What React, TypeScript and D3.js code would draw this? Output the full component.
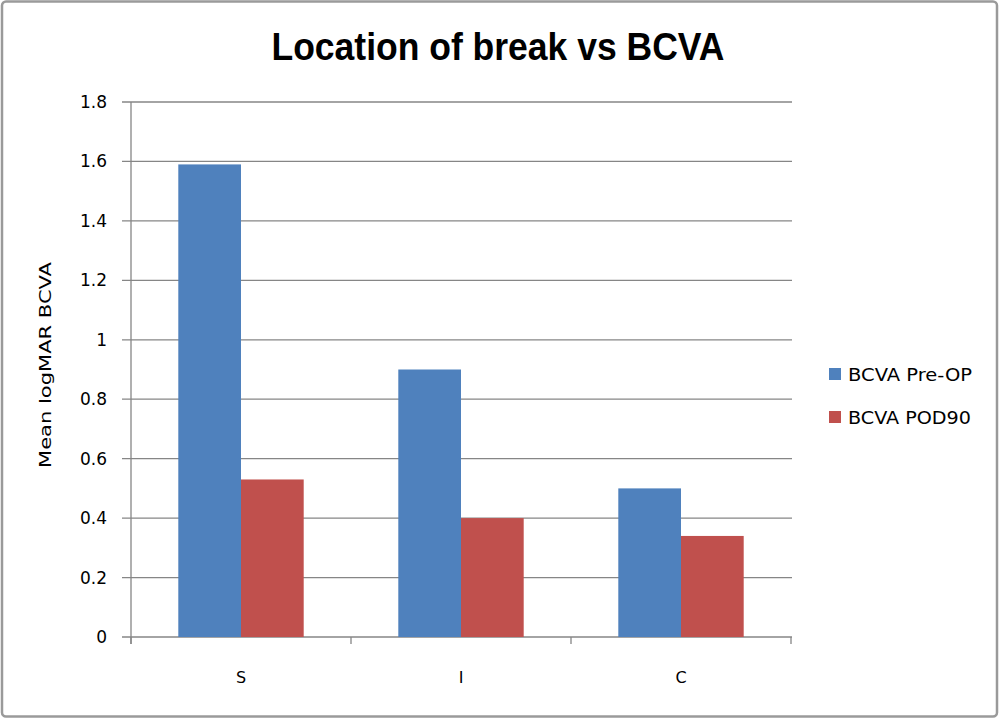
import React from "react";
import * as d3 from "d3";

const categories = ["S", "I", "C"];
const seriesNames = ["BCVA Pre-OP", "BCVA POD90"];
const preOp = [1.59, 0.9, 0.5];
const pod90 = [0.53, 0.4, 0.34];
const yTicks = [0, 0.2, 0.4, 0.6, 0.8, 1, 1.2, 1.4, 1.6, 1.8];
const colors = ["#4f81bd", "#c0504d"];
const title = "Location of break vs BCVA";
const yTitle = "Mean logMAR BCVA";

export default function App() {
  const W = 1000, H = 719;
  const left = 131, right = 791, top = 102, bottom = 637;
  const x = d3.scaleBand<string>().domain(categories).range([left, right]).paddingInner(0.43).paddingOuter(0.215);
  const y = d3.scaleLinear().domain([0, 1.8]).range([bottom, top]);
  const inner = d3.scaleBand<number>().domain([0, 1]).range([0, x.bandwidth()]);
  const step = (right - left) / categories.length;
  const series = [preOp, pod90];
  const font = "'Liberation Sans', Arial, sans-serif";
  const font2 = "'DejaVu Sans', Verdana, sans-serif";
  const fmt = (v: number) => (Number.isInteger(v) ? String(v) : v.toFixed(1));
  return (
    <svg width={W} height={H} style={{ position: "absolute", left: 0, top: 0 }}>
      <rect x={0} y={0} width={W} height={H} fill="#fff" />
      <rect x={2} y={1.5} width={995} height={715} rx={4} fill="#fff" stroke="#9a9a9a" strokeWidth={2.5} />
      <text x={498} y={60} textAnchor="middle" fontFamily={font} fontWeight="bold" fontSize={38}
        textLength={453} lengthAdjust="spacingAndGlyphs" fill="#000">{title}</text>
      {yTicks.map((t) => (
        <g key={t}>
          <line x1={left - 9} x2={right + 1} y1={y(t)} y2={y(t)} stroke="#868686" strokeWidth={1.3} />
          <text x={107} y={y(t) + 6} textAnchor="end" fontFamily={font2} fontSize={17} fill="#000">{fmt(t)}</text>
        </g>
      ))}
      <line x1={left} x2={left} y1={top} y2={bottom + 7} stroke="#868686" strokeWidth={1.3} />
      {d3.range(categories.length + 1).map((i) => (
        <line key={i} x1={left + i * step} x2={left + i * step} y1={bottom} y2={bottom + 7} stroke="#868686" strokeWidth={1.3} />
      ))}
      {categories.map((c, ci) =>
        series.map((s, si) => (
          <rect key={c + si} x={(x(c) as number) + (inner(si) as number)} y={y(s[ci])}
            width={inner.bandwidth()} height={bottom - y(s[ci])} fill={colors[si]} />
        ))
      )}
      {categories.map((c) => (
        <text key={c} x={(x(c) as number) + x.bandwidth() / 2} y={683} textAnchor="middle"
          fontFamily={font2} fontSize={16} fill="#000">{c}</text>
      ))}
      <text transform={`translate(51,365) rotate(-90)`} textAnchor="middle" fontFamily={font2} fontSize={16}
        textLength={206} lengthAdjust="spacingAndGlyphs" fill="#000">{yTitle}</text>
      {seriesNames.map((n, i) => (
        <g key={n}>
          <rect x={829} y={368 + i * 43} width={12} height={12} fill={colors[i]} />
          <text x={848} y={381 + i * 43} fontFamily={font2} fontSize={17}
            textLength={i === 0 ? 124 : 123} lengthAdjust="spacingAndGlyphs" fill="#000">{n}</text>
        </g>
      ))}
    </svg>
  );
}
